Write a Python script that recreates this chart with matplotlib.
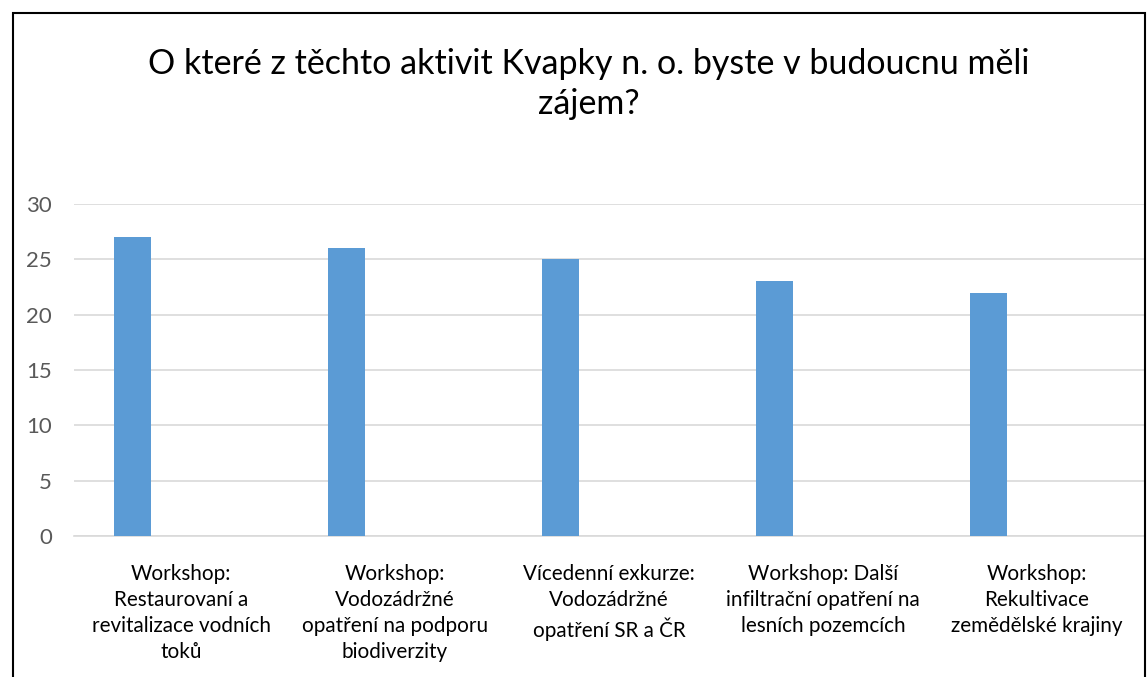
import matplotlib.pyplot as plt
from matplotlib.patches import Rectangle

categories = [
    "Workshop:\nRestaurovaní a\nrevitalizace vodních\ntoků",
    "Workshop:\nVodozádržné\nopatření na podporu\nbiodiverzity",
    "Vícedenní exkurze:\nVodozádržné\nopatření SR a ČR",
    "Workshop: Další\ninfiltrační opatření na\nlesních pozemcích",
    "Workshop:\nRekultivace\nzemědělské krajiny",
]
values = [27, 26, 25, 23, 22]
yticks = [0, 5, 10, 15, 20, 25, 30]

plt.rcParams['font.family'] = ['Lato', 'DejaVu Sans']

fig = plt.figure(figsize=(11.47, 6.77), dpi=100)
ax = fig.add_axes([74 / 1147, 1 - 536 / 677, 1070 / 1147, 332 / 677])

x = list(range(len(values)))
# bars sit left of the category centre (Excel clustered layout with an empty series)
ax.bar([i - 0.227 for i in x], values, width=0.173, color='#5b9bd5', zorder=3)

ax.set_xlim(-0.5, len(values) - 0.5)
ax.set_ylim(0, 30)
ax.set_yticks(yticks)
ax.set_xticks(x)
ax.set_xticklabels(categories, fontsize=14.9, color='#000000', linespacing=1.38)
ax.tick_params(axis='y', labelsize=16, labelcolor='#595959', length=0, pad=16)
ax.tick_params(axis='x', length=0, pad=20)
ax.grid(axis='y', color='#d9d9d9', linewidth=1.2, zorder=0)
for s in ['top', 'right', 'left']:
    ax.spines[s].set_visible(False)
ax.spines['bottom'].set_color('#d9d9d9')
ax.spines['bottom'].set_linewidth(1.2)

fig.text(0.513, 1 - 84 / 677, "O které z těchto aktivit Kvapky n. o. byste v budoucnu měli\nzájem?",
         ha='center', va='center', fontsize=24.5, color='#000000', linespacing=1.3)

fig.patches.append(Rectangle((13 / 1147, -0.05), (1145 - 13) / 1147, 1.05 - 13 / 677,
                             transform=fig.transFigure, fill=False, edgecolor='black',
                             linewidth=1.5))

fig.savefig('out.png', dpi=100)
